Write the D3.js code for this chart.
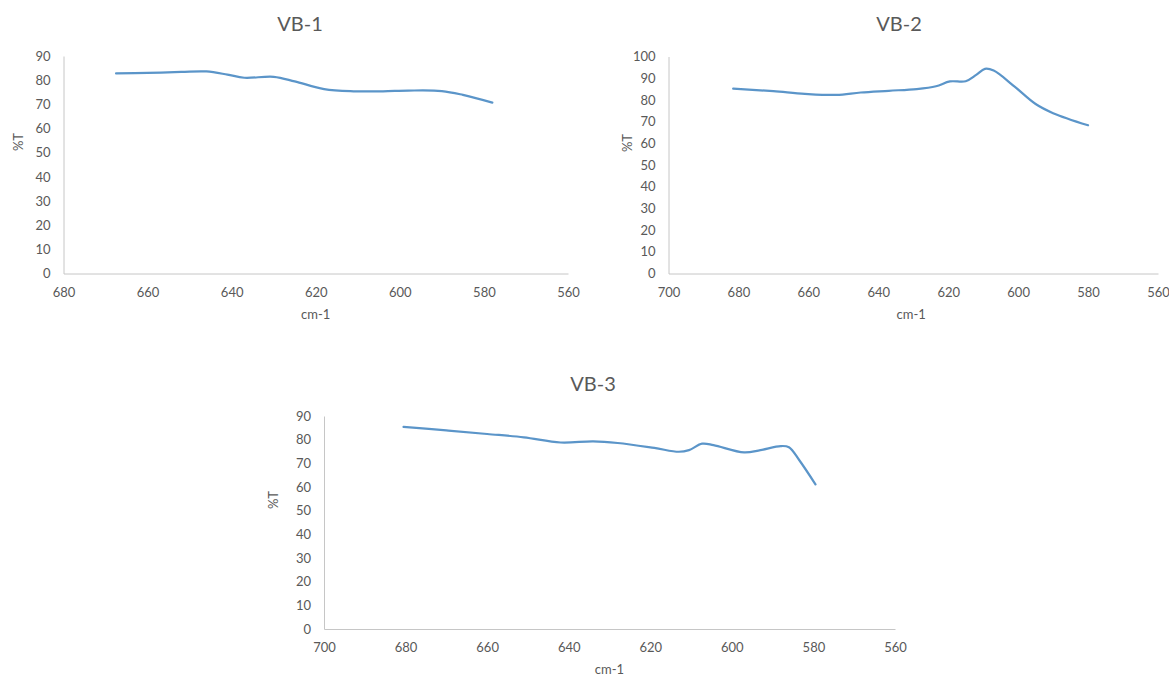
<!DOCTYPE html>
<meta charset="utf-8">
<head>
<script src="https://d3js.org/d3.v7.min.js"></script>
<style>
  body { margin: 0; background: #fff; }
  svg text { font-family: Lato, "Open Sans", sans-serif; fill: #595959; }
</style>
</head>
<body>
<svg id="my_dataviz" width="1169" height="677"></svg>
<script>
// VB-1 spectrum (wavenumber cm-1, %T)
var vb1Wn = [667.5, 660, 652, 646, 641, 637, 630, 625, 618, 611, 604, 598, 590, 585, 578];
var vb1T  = [82.8, 83.0, 83.4, 83.6, 82.3, 81.0, 81.4, 79.5, 76.3, 75.4, 75.4, 75.7, 75.5, 73.9, 70.7];

// VB-2 spectrum
var vb2Wn = [681.5, 670, 661, 652, 645, 637, 629, 623.5, 619.5, 615, 612, 609.5, 607, 601, 595, 590, 580];
var vb2T  = [85.2, 84.0, 82.8, 82.3, 83.4, 84.2, 85.0, 86.3, 88.5, 88.6, 91.5, 94.3, 93.5, 86.1, 78.1, 73.9, 68.3];

// VB-3 spectrum
var vb3Wn = [680.5, 670, 660, 651, 642, 634, 628, 619, 613, 610.5, 607.3, 604.5, 597, 593, 588, 586, 583.5, 579.5];
var vb3T  = [85.4, 83.9, 82.4, 81.0, 78.8, 79.3, 78.6, 76.5, 74.9, 75.6, 78.3, 77.7, 74.6, 75.6, 77.3, 76.8, 71.4, 61.1];

var xTicks1 = [680, 660, 640, 620, 600, 580, 560];
var xTicks2 = [700, 680, 660, 640, 620, 600, 580, 560];
var yTicks90 = [0, 10, 20, 30, 40, 50, 60, 70, 80, 90];
var yTicks100 = [0, 10, 20, 30, 40, 50, 60, 70, 80, 90, 100];

var svg = d3.select("svg");
var lineColor = "#5b95c9";
var axisColor = "#c6c6c6";

function drawChart(cfg) {
  var x = d3.scaleLinear().domain(cfg.xDomain).range([cfg.left, cfg.right]);
  var y = d3.scaleLinear().domain([0, cfg.yMax]).range([cfg.bottom, cfg.top]);
  var g = svg.append("g");

  // title
  g.append("text")
    .attr("x", cfg.titleX).attr("y", cfg.titleY)
    .attr("text-anchor", "middle")
    .attr("dominant-baseline", "central")
    .style("font-size", "20px")
    .text(cfg.title);

  // y axis
  var yAxis = d3.axisLeft(y).tickValues(cfg.yTicks).tickSize(0).tickPadding(13);
  var ya = g.append("g").attr("transform", "translate(" + cfg.left + ",0)").call(yAxis);
  ya.select(".domain").attr("stroke", axisColor);
  ya.selectAll("text").style("font-size", "13px").style("fill", "#595959")
    .style("font-family", "Lato, 'Open Sans', sans-serif");

  // x axis
  var xAxis = d3.axisBottom(x).tickValues(cfg.xTicks).tickSize(0).tickPadding(14);
  var xa = g.append("g").attr("transform", "translate(0," + cfg.bottom + ")").call(xAxis);
  xa.select(".domain").attr("stroke", axisColor);
  xa.selectAll("text").style("font-size", "13px").style("fill", "#595959")
    .style("font-family", "Lato, 'Open Sans', sans-serif");

  // axis titles
  g.append("text")
    .attr("x", (cfg.left + cfg.right) / 2 + cfg.xTitleShift).attr("y", cfg.bottom + 40)
    .attr("text-anchor", "middle")
    .attr("dominant-baseline", "central")
    .style("font-size", "13px")
    .text("cm-1");
  g.append("text")
    .attr("transform", "translate(" + cfg.yTitleX + "," + cfg.yTitleY + ") rotate(-90)")
    .attr("text-anchor", "middle")
    .attr("dominant-baseline", "central")
    .style("font-size", "13px")
    .text("%T");

  var pts = cfg.wn.map(function(w, i) { return [w, cfg.t[i]]; });
  var line = d3.line()
    .x(function(d) { return x(d[0]); })
    .y(function(d) { return y(d[1]); })
    .curve(d3.curveCatmullRom.alpha(0.5));
  g.append("path")
    .datum(pts)
    .attr("d", line)
    .attr("fill", "none")
    .attr("stroke", lineColor)
    .attr("stroke-width", 2.2)
    .attr("stroke-linejoin", "round")
    .attr("stroke-linecap", "round");
}

drawChart({
  title: "VB-1", titleX: 300, titleY: 23,
  wn: vb1Wn, t: vb1T, xDomain: [680, 560], xTicks: xTicks1,
  yMax: 90, yTicks: yTicks90,
  left: 63.5, right: 568, top: 56, bottom: 273.5,
  xTitleShift: 0, yTitleX: 18, yTitleY: 142
});

drawChart({
  title: "VB-2", titleX: 899, titleY: 23,
  wn: vb2Wn, t: vb2T, xDomain: [700, 560], xTicks: xTicks2,
  yMax: 100, yTicks: yTicks100,
  left: 668.5, right: 1158, top: 56.5, bottom: 273.5,
  xTitleShift: -2, yTitleX: 627, yTitleY: 143
});

drawChart({
  title: "VB-3", titleX: 593, titleY: 383,
  wn: vb3Wn, t: vb3T, xDomain: [700, 560], xTicks: xTicks2,
  yMax: 90, yTicks: yTicks90,
  left: 324, right: 895, top: 416, bottom: 629,
  xTitleShift: 0, yTitleX: 273, yTitleY: 500
});
</script>
</body>
